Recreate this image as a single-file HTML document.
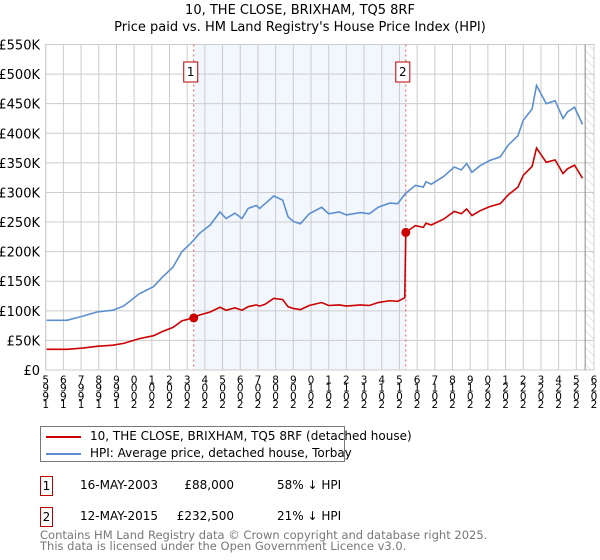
<!DOCTYPE html>
<html><head><meta charset="utf-8">
<style>
body{margin:0;background:#fff;font-family:"DejaVu Sans","Liberation Sans",sans-serif;}
#wrap{position:relative;width:600px;height:560px;overflow:hidden;}
svg text{font-family:"DejaVu Sans","Liberation Sans",sans-serif;}
</style></head>
<body>
<div id="wrap">
<svg id="chart" width="600" height="560" style="position:absolute;left:0;top:0">
<defs>
<pattern id="hatch" width="6" height="6" patternUnits="userSpaceOnUse" patternTransform="rotate(-45)">
<line x1="0" y1="0" x2="0" y2="6" stroke="#ccc" stroke-width="1"/>
</pattern>
</defs>
<text x="300" y="14" text-anchor="middle" font-size="13" fill="#000">10, THE CLOSE, BRIXHAM, TQ5 8RF</text>
<text x="300" y="31" text-anchor="middle" font-size="13" fill="#000">Price paid vs. HM Land Registry's House Price Index (HPI)</text>
<g id="grid"></g>
<g id="marks"></g>
<g id="axes"></g>
</svg>
<div style="position:absolute;left:40px;top:426px;width:305px;height:36px;border:1px solid #777;box-sizing:border-box;font-size:12px;">
 <div style="position:absolute;left:5px;top:2px;white-space:nowrap;"><span style="display:inline-block;width:35px;height:2px;background:#cc0000;vertical-align:middle;margin-right:9px;"></span>10, THE CLOSE, BRIXHAM, TQ5 8RF (detached house)</div>
 <div style="position:absolute;left:5px;top:19px;white-space:nowrap;"><span style="display:inline-block;width:35px;height:2px;background:#5b8fd0;vertical-align:middle;margin-right:9px;"></span>HPI: Average price, detached house, Torbay</div>
</div>
<div style="font-size:12px;">
 <div style="position:absolute;left:40px;top:476px;width:13px;height:20px;border:1px solid #b00;box-sizing:border-box;text-align:center;line-height:18px;">1</div>
 <div style="position:absolute;left:80px;top:478px;">16-MAY-2003</div>
 <div style="position:absolute;left:150px;width:84px;text-align:right;top:478px;">£88,000</div>
 <div style="position:absolute;left:277px;top:478px;">58% ↓ HPI</div>
 <div style="position:absolute;left:40px;top:507px;width:13px;height:20px;border:1px solid #b00;box-sizing:border-box;text-align:center;line-height:18px;">2</div>
 <div style="position:absolute;left:80px;top:509px;">12-MAY-2015</div>
 <div style="position:absolute;left:150px;width:84px;text-align:right;top:509px;">£232,500</div>
 <div style="position:absolute;left:277px;top:509px;">21% ↓ HPI</div>
</div>
<div style="position:absolute;left:40px;top:530px;font-size:11.5px;color:#777;line-height:10.5px;">Contains HM Land Registry data © Crown copyright and database right 2025.<br>This data is licensed under the Open Government Licence v3.0.</div>
</div>
<script>
const hpiYears=[1995.05,1996.2,1997.1,1997.9,1998.8,1999.4,2000.3,2001.1,2001.6,2002.2,2002.7,2003.2,2003.7,2004.3,2004.85,2005.2,2005.7,2006.1,2006.45,2006.9,2007.1,2007.4,2007.9,2008.4,2008.7,2009.0,2009.4,2009.9,2010.6,2011.0,2011.6,2012.0,2012.8,2013.3,2013.8,2014.45,2014.9,2015.3,2015.9,2016.35,2016.5,2016.8,2017.5,2018.1,2018.5,2018.8,2019.1,2019.55,2020.1,2020.7,2021.15,2021.7,2022.0,2022.5,2022.75,2023.3,2023.8,2024.25,2024.5,2024.9,2025.35];
const hpiValues=[84,84,91,98,101,108,129,141,157,174,200,214,231,245,267,256,265,256,273,278,273,281,294,287,259,251,247,264,275,264,267,262,266,264,275,282,281,297,312,309,318,314,327,343,338,349,334,345,354,360,380,396,422,441,481,450,455,425,436,444,415];
const redYears=[1995.05,1996.2,1997.1,1997.9,1998.8,1999.4,2000.3,2001.1,2001.6,2002.2,2002.7,2003.2,2003.37,2003.7,2004.3,2004.85,2005.2,2005.7,2006.1,2006.45,2006.9,2007.1,2007.4,2007.9,2008.4,2008.7,2009.0,2009.4,2009.9,2010.6,2011.0,2011.6,2012.0,2012.8,2013.3,2013.8,2014.45,2014.9,2015.3,2015.36,2015.9,2016.35,2016.5,2016.8,2017.5,2018.1,2018.5,2018.8,2019.1,2019.55,2020.1,2020.7,2021.15,2021.7,2022.0,2022.5,2022.75,2023.3,2023.8,2024.25,2024.5,2024.9,2025.35];
const redValues=[35,35,37,40,42,45,53,58,65,72,83,87,88,93,98,106,101,105,101,107,110,108,111,121,119,107,104,102,109,114,109,110,108,110,109,114,117,116,122,232.5,244,241,248,245,255,268,264,272,261,269,276,281,296,309,329,344,375,351,355,332,340,346,324];
const saleYears=[2003.37,2015.36];
const salePrices=[88,232.5];
const saleLabels=["1","2"];
const yTicks=[0,50,100,150,200,250,300,350,400,450,500,550];
const yTickLabels=["£0","£50K","£100K","£150K","£200K","£250K","£300K","£350K","£400K","£450K","£500K","£550K"];
const xTicks=[1995,1996,1997,1998,1999,2000,2001,2002,2003,2004,2005,2006,2007,2008,2009,2010,2011,2012,2013,2014,2015,2016,2017,2018,2019,2020,2021,2022,2023,2024,2025,2026];

const X0=45.7,X1=594,Y0=370,Y1=44.5;
const xs=y=>X0+(y-1995)/(2026-1995)*(X1-X0);
const ys=v=>Y0-v/550*(Y0-Y1);
const NS="http://www.w3.org/2000/svg";
function mk(tag,attrs,parent){const e=document.createElementNS(NS,tag);for(const k in attrs)e.setAttribute(k,attrs[k]);parent.appendChild(e);return e;}
const grid=document.getElementById('grid'),marks=document.getElementById('marks'),axes=document.getElementById('axes');

let r=mk('rect',{x:xs(saleYears[0]),y:Y1,width:xs(saleYears[1])-xs(saleYears[0]),height:Y0-Y1,fill:'#eef3fc',opacity:0.75},grid);


let h=mk('rect',{x:xs(2025.5),y:Y1,width:X1-xs(2025.5),height:Y0-Y1,fill:'url(#hatch)'},grid);


yTicks.forEach((v,i)=>{
 const l=mk('line',{x1:X0,x2:X1,y1:ys(v),y2:ys(v),stroke:'#ccc','stroke-width':1},grid);
 
 
 const t=mk('text',{x:40,y:ys(v)+5,'text-anchor':'end','font-size':13,fill:'#000'},axes);
 t.textContent=yTickLabels[i];
 
 
});
xTicks.forEach(y=>{
 const l=mk('line',{x1:xs(y),x2:xs(y),y1:Y1,y2:Y0,stroke:'#ccc','stroke-width':1},grid);
 
 
 const t=mk('text',{'text-anchor':'middle','font-size':10.5,fill:'#000'},axes);
 
 
 const s=String(y);
 for(let k=0;k<s.length;k++){
  const sp=mk('tspan',{x:xs(y),y:408-k*8.2},t);
  sp.textContent=s[k];
 }
});
let b=mk('rect',{x:X0,y:Y1,width:X1-X0,height:Y0-Y1,fill:'none',stroke:'#ccc'},grid);


let nl=mk('line',{x1:xs(2025.5),x2:xs(2025.5),y1:Y1,y2:Y0,stroke:'#888'},grid);



saleYears.forEach((y,i)=>{
 const l=mk('line',{x1:xs(y),x2:xs(y),y1:Y1,y2:Y0,stroke:'#e55','stroke-width':1,'stroke-dasharray':'2,3'},marks);
 
 
 const bx=mk('rect',{x:xs(y)-10,y:62,width:14,height:20,fill:'#fff',stroke:'#b00'},marks);
 
 
 const t=mk('text',{x:xs(y)-3,y:76,'text-anchor':'middle','font-size':12,fill:'#000'},marks);
 t.textContent=saleLabels[i];
 
 
});

const hp=mk('polyline',{points:hpiYears.map((y,i)=>xs(y)+','+ys(hpiValues[i])).join(' '),fill:'none',stroke:'#5b8fd0','stroke-width':1.6},marks);


const rp=mk('polyline',{points:redYears.map((y,i)=>xs(y)+','+ys(redValues[i])).join(' '),fill:'none',stroke:'#cc0000','stroke-width':1.6},marks);


saleYears.forEach((y,i)=>{
 const c=mk('circle',{cx:xs(y),cy:ys(salePrices[i]),r:4.5,fill:'#cc0000'},marks);
 
 
});
</script>
</body></html>
